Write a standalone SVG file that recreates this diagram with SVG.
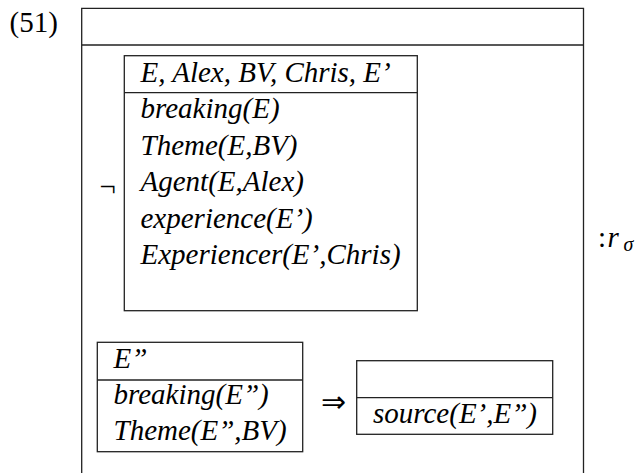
<svg xmlns="http://www.w3.org/2000/svg" width="638" height="473" viewBox="0 0 638 473">
<style>
.box{fill:none;stroke:#222;stroke-width:1.3}
.t{font-family:"Liberation Serif","Times New Roman",serif;font-size:29px;font-style:italic;fill:#000}
.u{font-family:"Liberation Serif","Times New Roman",serif;font-size:29px;fill:#000}
</style>
<rect width="638" height="473" fill="#fff"/>
<text class="u" x="9.5" y="31.5">(51)</text>
<g id="outer-drs">
<path class="box" d="M81.7,480 V8.3 H583.5 V480 M81.7,45 H583.5"/>
</g>
<g id="negated-drs">
<text class="u" x="99.5" y="196">¬</text>
<rect class="box" x="124.3" y="55.7" width="293" height="255"/>
<line class="box" x1="124.3" y1="92.7" x2="417.3" y2="92.7"/>
<text class="t" x="140.5" y="82">E, Alex, BV, Chris, E’</text>
<text class="t" x="140.5" y="118">breaking(E)</text>
<text class="t" x="140.5" y="154.5">Theme(E,BV)</text>
<text class="t" x="140.5" y="191">Agent(E,Alex)</text>
<text class="t" x="140.5" y="227.5">experience(E’)</text>
<text class="t" x="140.5" y="264">Experiencer(E’,Chris)</text>
</g>
<g id="antecedent-drs">
<rect class="box" x="97.3" y="342.3" width="205.4" height="109.4"/>
<line class="box" x1="97.3" y1="380" x2="302.7" y2="380"/>
<text class="t" x="113.5" y="368">E”</text>
<text class="t" x="113.5" y="404">breaking(E”)</text>
<text class="t" x="113.5" y="440">Theme(E”,BV)</text>
</g>
<g id="connectors">
<text class="u" x="320.5" y="411.5" style="font-size:30px">⇒</text>
</g>
<g id="consequent-drs">
<rect class="box" x="356.7" y="360.7" width="196" height="73.6"/>
<line class="box" x1="356.7" y1="397.7" x2="552.7" y2="397.7"/>
<text class="t" x="373" y="423">source(E’,E”)</text>
</g>
<g id="label">
<text class="u" x="598" y="247">:</text>
<text class="t" x="607.5" y="247">r</text>
<text class="t" x="623.5" y="251" style="font-size:20px">σ</text>
</g>
</svg>
